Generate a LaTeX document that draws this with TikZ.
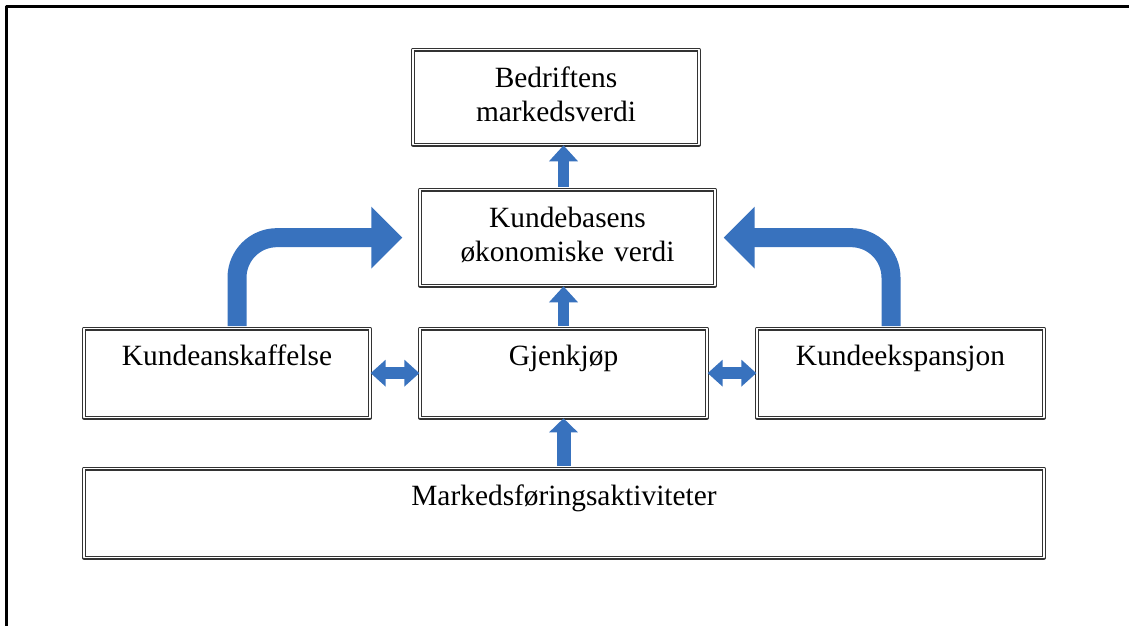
\documentclass[tikz,border=0pt]{standalone}
\usepackage{fontspec}
\setmainfont{Liberation Serif}
\usetikzlibrary{arrows.meta,calc}

\definecolor{arrowblue}{RGB}{56,114,190}

\begin{document}
\begin{tikzpicture}[x=1pt,y=-1pt,line join=round,
  font={\fontsize{29.4}{34}\selectfont},
  blok/.style={draw=black!80,double=white,double distance=1.4pt,line width=1.3pt,
    fill=white,inner sep=0pt,anchor=north,align=center,text height=38pt},
  pil/.style={draw=arrowblue,line width=11pt,shorten <=2pt,
    -{Triangle[width=28pt,length=16pt]}},
  dobbel/.style={draw=arrowblue,line width=12pt,
    {Triangle[width=26pt,length=15pt]}-{Triangle[width=26pt,length=15pt]}},
  bue/.style={draw=arrowblue,line width=19pt,rounded corners=40pt,shorten <=2pt,
    -{Triangle[width=60pt,length=31pt]}}]

  % ---- frame ----
  \useasboundingbox (0,0) rectangle (1129,625);
  \clip (0,0) rectangle (1129,625);
  \draw[line width=3pt] (1140,6) -- (6,6) -- (6,640);

  % ---- value boxes ----
  \node[blok,text width=286pt,text depth=57pt] (verdi) at (556,49) {Bedriftens\\markedsverdi};
  \node[blok,text width=295pt,text depth=58pt] (basis) at (567.5,189) {Kundebasens\\økonomiske verdi};

  % ---- customer boxes ----
  \node[blok,text width=286pt,text height=37pt,text depth=52pt] (anskaf) at (227,328) {Kundeanskaffelse};
  \node[blok,text width=287pt,text height=37pt,text depth=52pt] (gjen) at (563.5,328) {Gjenkjøp};
  \node[blok,text width=287pt,text height=37pt,text depth=52pt] (ekspan) at (900.5,328) {Kundeekspansjon};

  % ---- marketing ----
  \node[blok,text width=960pt,text height=37pt,text depth=52pt] (mark) at (564,468) {Markedsføringsaktiviteter};

  % ---- straight arrows ----
  \draw[pil] (gjen.north |- basis.north) -- (gjen.north |- verdi.south);
  \draw[pil] (gjen.north) -- (gjen.north |- basis.south);
  \draw[pil,line width=14pt,-{Triangle[width=28pt,length=14pt]}] (gjen.north |- mark.north) -- (gjen.south);
  \draw[dobbel] (anskaf.east) -- (gjen.west);
  \draw[dobbel] (gjen.east) -- (ekspan.west);

  % ---- bent arrows ----
  \draw[bue] ($(anskaf.north)+(10,0)$) |- ($(basis.west)+(-17,0)$);
  \draw[bue] ($(ekspan.north)+(-9.5,0)$) |- ($(basis.east)+(8,0)$);

\end{tikzpicture}
\end{document}
